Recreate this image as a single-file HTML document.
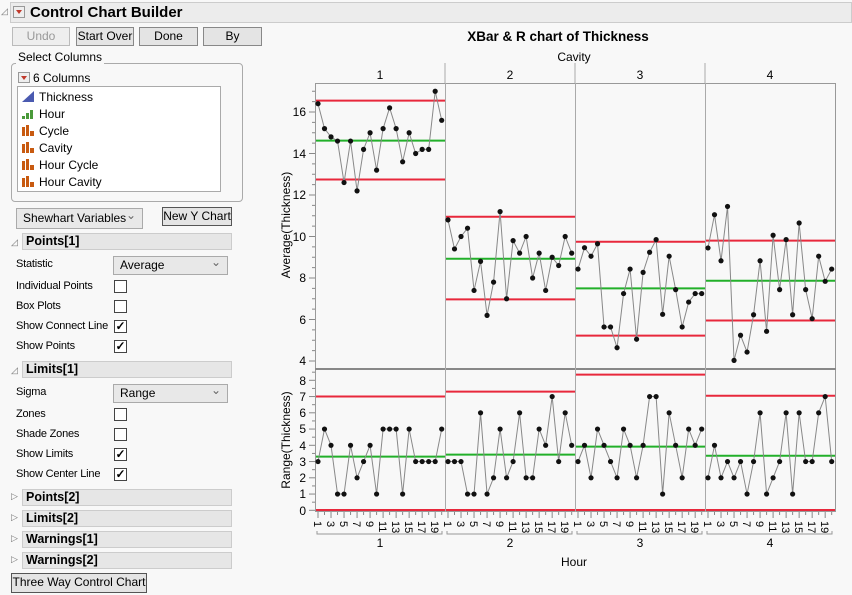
<!DOCTYPE html>
<html><head><meta charset="utf-8"><style>
body{margin:0;width:852px;height:595px;background:#f8f8f8;font-family:"Liberation Sans",sans-serif;font-size:12px;color:#000;position:relative;overflow:hidden}
.a{position:absolute}
.btn{position:absolute;border:1px solid #888;background:#e4e4e4;text-align:center;font-size:12px;box-sizing:border-box;line-height:17px}
.hdr{position:absolute;left:22px;width:210px;height:17px;background:#e6e6e6;border:1px solid #ccc;box-sizing:border-box;font-weight:bold;font-size:12.5px;padding-left:3px;line-height:15px}
.tri{position:absolute;left:11px;font-size:9px;color:#777}
.lbl{position:absolute;left:16px;font-size:11px;letter-spacing:-0.2px}
.cb{position:absolute;left:114px;width:13px;height:13px;border:1px solid #444;background:#fff;box-sizing:border-box;font-size:12px;line-height:11px;text-align:center;font-weight:bold}
.dd{position:absolute;left:113px;width:115px;height:19px;border:1px solid #aaa;background:#e8e8e8;box-sizing:border-box;padding-left:6px;line-height:17px}
.dd:after{content:"⌄";position:absolute;right:6px;top:-3px;color:#666}
.it{position:absolute;left:39px;font-size:12px}
.ic{position:absolute;left:22px;width:12px;height:11px}
</style></head><body>
<div class="a" style="left:10px;top:2px;width:842px;height:21px;background:#ececec;border:1px solid #ccc;box-sizing:border-box"></div>
<div class="a" style="left:1px;top:6px;font-size:9px;color:#777">◿</div>
<div class="a" style="left:13px;top:6px;width:12px;height:12px;border:1px solid #999;background:#eee;box-sizing:border-box"><div style="margin:3px 0 0 2px;width:0;height:0;border-left:3.5px solid transparent;border-right:3.5px solid transparent;border-top:4px solid #c0392b"></div></div>
<div class="a" style="left:30px;top:4px;font-weight:bold;font-size:15px">Control Chart Builder</div>
<div class="btn" style="left:12px;top:27px;width:58px;height:19px;color:#999;border-color:#bbb;background:#eee">Undo</div>
<div class="btn" style="left:76px;top:27px;width:58px;height:19px">Start Over</div>
<div class="btn" style="left:139px;top:27px;width:59px;height:19px">Done</div>
<div class="btn" style="left:203px;top:27px;width:59px;height:19px">By</div>
<div class="a" style="left:11px;top:63px;width:232px;height:139px;border:1px solid #aaa;border-radius:4px;box-sizing:border-box"></div>
<div class="a" style="left:16px;top:50px;background:#f8f8f8;padding:0 2px">Select Columns</div>
<div class="a" style="left:18px;top:72px;width:12px;height:11px;border:1px solid #999;background:#eee;box-sizing:border-box"><div style="margin:3px 0 0 2px;width:0;height:0;border-left:3.5px solid transparent;border-right:3.5px solid transparent;border-top:4px solid #c0392b"></div></div>
<div class="a" style="left:33px;top:71px">6 Columns</div>
<div class="a" style="left:17px;top:86px;width:204px;height:106px;border:1px solid #aaa;background:#fff;box-sizing:border-box"></div>
<svg class="ic" style="top:91px" viewBox="0 0 12 11"><polygon points="0,11 12,0 12,11" fill="#4a5ab0"/></svg><div class="it" style="top:90px">Thickness</div>
<svg class="ic" style="top:108px" viewBox="0 0 12 11"><rect x="0" y="8" width="3" height="3" fill="#4a9a3a"/><rect x="4" y="5" width="3" height="6" fill="#4a9a3a"/><rect x="8" y="2" width="3" height="9" fill="#4a9a3a"/></svg><div class="it" style="top:107px">Hour</div>
<svg class="ic" style="top:125px" viewBox="0 0 12 11"><rect x="0" y="2" width="3" height="9" fill="#c85a10"/><rect x="4" y="0" width="3" height="11" fill="#c85a10"/><rect x="8" y="6" width="4" height="5" fill="#c85a10"/></svg><div class="it" style="top:124px">Cycle</div>
<svg class="ic" style="top:142px" viewBox="0 0 12 11"><rect x="0" y="2" width="3" height="9" fill="#c85a10"/><rect x="4" y="0" width="3" height="11" fill="#c85a10"/><rect x="8" y="6" width="4" height="5" fill="#c85a10"/></svg><div class="it" style="top:141px">Cavity</div>
<svg class="ic" style="top:159px" viewBox="0 0 12 11"><rect x="0" y="2" width="3" height="9" fill="#c85a10"/><rect x="4" y="0" width="3" height="11" fill="#c85a10"/><rect x="8" y="6" width="4" height="5" fill="#c85a10"/></svg><div class="it" style="top:158px">Hour Cycle</div>
<svg class="ic" style="top:176px" viewBox="0 0 12 11"><rect x="0" y="2" width="3" height="9" fill="#c85a10"/><rect x="4" y="0" width="3" height="11" fill="#c85a10"/><rect x="8" y="6" width="4" height="5" fill="#c85a10"/></svg><div class="it" style="top:175px">Hour Cavity</div>
<div class="dd" style="left:16px;top:208px;width:127px;height:21px;line-height:19px">Shewhart Variables</div>
<div class="btn" style="left:162px;top:207px;width:70px;height:19px;border-color:#555">New Y Chart</div>

<div class="tri" style="top:237px">◿</div><div class="hdr" style="top:233px">Points[1]</div>
<div class="lbl" style="top:258px">Statistic</div><div class="dd" style="top:256px">Average</div>
<div class="lbl" style="top:280px">Individual Points</div><div class="cb" style="top:280px"></div>
<div class="lbl" style="top:300px">Box Plots</div><div class="cb" style="top:300px"></div>
<div class="lbl" style="top:320px">Show Connect Line</div><div class="cb" style="top:320px">✓</div>
<div class="lbl" style="top:340px">Show Points</div><div class="cb" style="top:340px">✓</div>
<div class="tri" style="top:365px">◿</div><div class="hdr" style="top:361px">Limits[1]</div>
<div class="lbl" style="top:386px">Sigma</div><div class="dd" style="top:384px">Range</div>
<div class="lbl" style="top:408px">Zones</div><div class="cb" style="top:408px"></div>
<div class="lbl" style="top:428px">Shade Zones</div><div class="cb" style="top:428px"></div>
<div class="lbl" style="top:448px">Show Limits</div><div class="cb" style="top:448px">✓</div>
<div class="lbl" style="top:468px">Show Center Line</div><div class="cb" style="top:468px">✓</div>
<div class="tri" style="top:491px">▷</div><div class="hdr" style="top:489px">Points[2]</div>
<div class="tri" style="top:512px">▷</div><div class="hdr" style="top:510px">Limits[2]</div>
<div class="tri" style="top:533px">▷</div><div class="hdr" style="top:531px">Warnings[1]</div>
<div class="tri" style="top:554px">▷</div><div class="hdr" style="top:552px">Warnings[2]</div>
<div class="btn" style="left:11px;top:573px;width:136px;height:20px;border-color:#555">Three Way Control Chart</div>

<svg class="a" style="left:0;top:0" width="852" height="595" font-family="Liberation Sans, sans-serif">
<text x="558" y="41" text-anchor="middle" font-weight="bold" font-size="13.5">XBar &amp; R chart of Thickness</text>
<text x="574" y="61" text-anchor="middle" font-size="12">Cavity</text>
<g font-size="12" text-anchor="middle"><text x="380" y="79">1</text><text x="510" y="79">2</text><text x="640" y="79">3</text><text x="770" y="79">4</text></g>
<line x1="445" y1="63" x2="445" y2="83" stroke="#aaa"/><line x1="575" y1="63" x2="575" y2="83" stroke="#aaa"/><line x1="705" y1="63" x2="705" y2="83" stroke="#aaa"/>
<rect x="315.5" y="83.5" width="520" height="285" fill="#f8f8f8" stroke="#999"/>
<rect x="315.5" y="369.5" width="520" height="142" fill="#f8f8f8" stroke="#999"/>
<line x1="315" y1="369" x2="836" y2="369" stroke="#888" stroke-width="2"/>
<g stroke="#aaa"><line x1="445.5" y1="83" x2="445.5" y2="512"/><line x1="575.5" y1="83" x2="575.5" y2="512"/><line x1="705.5" y1="83" x2="705.5" y2="512"/></g>
<g font-size="12" text-anchor="end" fill="#000">
<text x="306" y="116">16</text><text x="306" y="158">14</text><text x="306" y="199">12</text><text x="306" y="241">10</text><text x="306" y="282">8</text><text x="306" y="324">6</text><text x="306" y="365">4</text>
<text x="306" y="385">8</text><text x="306" y="401">7</text><text x="306" y="417">6</text><text x="306" y="433">5</text><text x="306" y="450">4</text><text x="306" y="466">3</text><text x="306" y="482">2</text><text x="306" y="498">1</text><text x="306" y="515">0</text>
</g>
<text transform="translate(290,225) rotate(-90)" text-anchor="middle" font-size="12">Average(Thickness)</text>
<text transform="translate(290,440) rotate(-90)" text-anchor="middle" font-size="12">Range(Thickness)</text>
<g id="tk" stroke="#888"></g>
<g id="lim"></g>
<g id="ser"></g>
<g font-size="11" id="hl">
<text transform="translate(314,521) rotate(90)">1</text><text transform="translate(327,521) rotate(90)">3</text><text transform="translate(340,521) rotate(90)">5</text><text transform="translate(353,521) rotate(90)">7</text><text transform="translate(366,521) rotate(90)">9</text><text transform="translate(379,521) rotate(90)">11</text><text transform="translate(392,521) rotate(90)">13</text><text transform="translate(405,521) rotate(90)">15</text><text transform="translate(418,521) rotate(90)">17</text><text transform="translate(431,521) rotate(90)">19</text>
<text transform="translate(444,521) rotate(90)">1</text><text transform="translate(457,521) rotate(90)">3</text><text transform="translate(470,521) rotate(90)">5</text><text transform="translate(483,521) rotate(90)">7</text><text transform="translate(496,521) rotate(90)">9</text><text transform="translate(509,521) rotate(90)">11</text><text transform="translate(522,521) rotate(90)">13</text><text transform="translate(535,521) rotate(90)">15</text><text transform="translate(548,521) rotate(90)">17</text><text transform="translate(561,521) rotate(90)">19</text>
<text transform="translate(574,521) rotate(90)">1</text><text transform="translate(587,521) rotate(90)">3</text><text transform="translate(600,521) rotate(90)">5</text><text transform="translate(613,521) rotate(90)">7</text><text transform="translate(626,521) rotate(90)">9</text><text transform="translate(639,521) rotate(90)">11</text><text transform="translate(652,521) rotate(90)">13</text><text transform="translate(665,521) rotate(90)">15</text><text transform="translate(678,521) rotate(90)">17</text><text transform="translate(691,521) rotate(90)">19</text>
<text transform="translate(704,521) rotate(90)">1</text><text transform="translate(717,521) rotate(90)">3</text><text transform="translate(730,521) rotate(90)">5</text><text transform="translate(743,521) rotate(90)">7</text><text transform="translate(756,521) rotate(90)">9</text><text transform="translate(769,521) rotate(90)">11</text><text transform="translate(782,521) rotate(90)">13</text><text transform="translate(795,521) rotate(90)">15</text><text transform="translate(808,521) rotate(90)">17</text><text transform="translate(821,521) rotate(90)">19</text>
</g>
<g stroke="#999" fill="none">
<path d="M317,531v3h125v-3"/><path d="M447,531v3h125v-3"/><path d="M577,531v3h125v-3"/><path d="M707,531v3h125v-3"/>
</g>
<g font-size="12" text-anchor="middle"><text x="380" y="547">1</text><text x="510" y="547">2</text><text x="640" y="547">3</text><text x="770" y="547">4</text></g>
<text x="574" y="566" text-anchor="middle" font-size="12">Hour</text>
</svg>
<script>
var NS="http://www.w3.org/2000/svg";
function el(p,n,a){var e=document.createElementNS(NS,n);for(var k in a)e.setAttribute(k,a[k]);document.getElementById(p).appendChild(e);}
function ya(v){return 112+(16-v)*20.75}
function yr(v){return 510.3-v*16.25}
var A=[[16.4,15.2,14.8,14.6,12.6,14.6,12.2,14.2,15,13.2,15.2,16.2,15.2,13.6,15,14,14.2,14.2,17,15.6],
[10.8,9.4,10,10.4,7.4,8.8,6.2,7.8,11.2,7,9.8,9.2,10,8,9.2,7.4,9,8.6,10,9.2],
[8.43,9.46,9.05,9.65,5.64,5.64,4.64,7.25,8.43,5.05,8.27,9.24,9.85,6.25,9.05,7.44,5.64,6.84,7.25,7.25],
[9.45,11.05,8.83,11.45,4.03,5.24,4.43,6.23,8.83,5.43,10.06,7.44,9.85,6.23,10.65,7.44,6.04,9.05,7.84,8.43]];
var AL=[[16.55,14.62,12.75],[10.95,8.93,6.97],[9.75,7.5,5.22],[9.8,7.87,5.95]];
var R=[[3,5,4,1,1,4,2,3,4,1,5,5,5,1,5,3,3,3,3,5],[3,3,3,1,1,6,1,2,5,2,3,6,2,2,5,4,7,3,6,4],
[3,4,2,5,4,3,2,5,4,2,4,7,7,1,6,4,2,5,4,5],[2,4,2,3,2,3,1,3,6,1,2,3,6,1,6,3,3,6,7,3]];
var RL=[[7,3.3,0],[7.3,3.43,0],[8.35,3.92,0],[7.05,3.36,0]];
for(var v=4;v<=17;v+=0.5){var y=ya(v);if(y<84)continue;el("tk","line",{x1:v%2==0?309:312,x2:315,y1:y,y2:y});}
for(var v=0;v<=8.5;v+=0.5){var y=yr(v);if(y<370)continue;el("tk","line",{x1:v%1==0?309:312,x2:315,y1:y,y2:y});}
for(var p=0;p<4;p++){
 var x0=316+p*130,x1=x0+129;
 for(var i=0;i<20;i++){var x=318+p*130+i*6.51;el("tk","line",{x1:x,x2:x,y1:512,y2:i%2==0?518:515});}
 var cols=["#e8283c","#22b02a","#e8283c"];
 for(var k=0;k<3;k++){el("lim","line",{x1:x0,x2:x1,y1:ya(AL[p][k]),y2:ya(AL[p][k]),stroke:cols[k],"stroke-width":2});
  el("lim","line",{x1:x0,x2:x1,y1:Math.min(yr(RL[p][k]),510),y2:Math.min(yr(RL[p][k]),510),stroke:cols[k],"stroke-width":2});}
 var pa="",pr="";
 for(var i=0;i<20;i++){var x=318+p*130+i*6.51;pa+=(i?"L":"M")+x+","+ya(A[p][i]);pr+=(i?"L":"M")+x+","+yr(R[p][i]);}
 el("ser","path",{d:pa,fill:"none",stroke:"#888","stroke-width":1});
 el("ser","path",{d:pr,fill:"none",stroke:"#888","stroke-width":1});
 for(var i=0;i<20;i++){var x=318+p*130+i*6.51;el("ser","circle",{cx:x,cy:ya(A[p][i]),r:2.6,fill:"#111"});el("ser","circle",{cx:x,cy:yr(R[p][i]),r:2.6,fill:"#111"});}
}
</script>
</body></html>
